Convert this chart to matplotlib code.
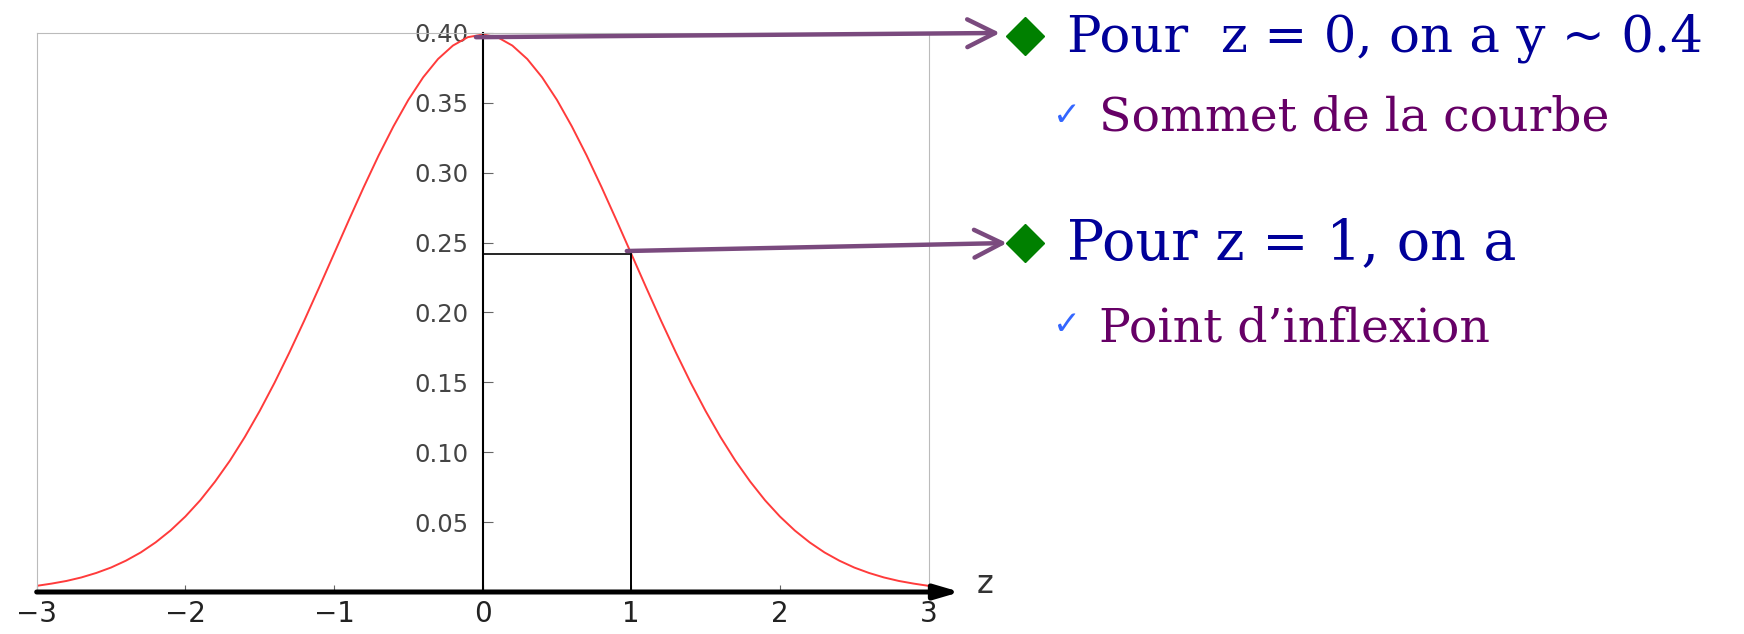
import matplotlib.pyplot as plt
from matplotlib.lines import Line2D

# courbe de la loi normale centrée réduite
z = [-3.0, -2.9, -2.8, -2.7, -2.6, -2.5, -2.4, -2.3, -2.2, -2.1,
     -2.0, -1.9, -1.8, -1.7, -1.6, -1.5, -1.4, -1.3, -1.2, -1.1,
     -1.0, -0.9, -0.8, -0.7, -0.6, -0.5, -0.4, -0.3, -0.2, -0.1,
     0.0, 0.1, 0.2, 0.3, 0.4, 0.5, 0.6, 0.7, 0.8, 0.9,
     1.0, 1.1, 1.2, 1.3, 1.4, 1.5, 1.6, 1.7, 1.8, 1.9,
     2.0, 2.1, 2.2, 2.3, 2.4, 2.5, 2.6, 2.7, 2.8, 2.9, 3.0]
y = [0.0044, 0.0060, 0.0079, 0.0104, 0.0136, 0.0175, 0.0224, 0.0283, 0.0355, 0.0440,
     0.0540, 0.0656, 0.0790, 0.0940, 0.1109, 0.1295, 0.1497, 0.1714, 0.1942, 0.2179,
     0.2420, 0.2661, 0.2897, 0.3123, 0.3332, 0.3521, 0.3683, 0.3814, 0.3910, 0.3970,
     0.3989, 0.3970, 0.3910, 0.3814, 0.3683, 0.3521, 0.3332, 0.3123, 0.2897, 0.2661,
     0.2420, 0.2179, 0.1942, 0.1714, 0.1497, 0.1295, 0.1109, 0.0940, 0.0790, 0.0656,
     0.0540, 0.0440, 0.0355, 0.0283, 0.0224, 0.0175, 0.0136, 0.0104, 0.0079, 0.0060, 0.0044]

xticks = [-3, -2, -1, 0, 1, 2, 3]
yticks = [0.05, 0.10, 0.15, 0.20, 0.25, 0.30, 0.35, 0.40]

sommet = (0.0, 0.397)
inflexion = (1.0, 0.242)

fig = plt.figure(figsize=(17.44, 6.34), dpi=100)
ax = fig.add_axes([0.02104, 0.06625, 0.5114, 0.8817])

ax.plot(z, y, color='#ff3b3b', lw=1.4)

# traits noirs vers le point d'inflexion
ax.plot([inflexion[0], inflexion[0]], [0, inflexion[1]], color='black', lw=1.4)
ax.plot([0, inflexion[0]], [inflexion[1], inflexion[1]], color='black', lw=1.2)

ax.set_xlim(-3, 3)
ax.set_ylim(0, 0.4)

# cadre gris + axe des y au centre
ax.spines['left'].set_position(('data', 0))
ax.spines['left'].set_color('black')
ax.spines['left'].set_linewidth(1.5)
for s in ['top', 'right']:
    ax.spines[s].set_color('#bbbbbb')
    ax.spines[s].set_linewidth(0.8)
ax.spines['bottom'].set_visible(False)
ax.axvline(-3, color='#bbbbbb', lw=0.8, clip_on=False)

ax.set_xticks(xticks)
ax.set_xticklabels(['\u2212%d' % abs(t) if t < 0 else str(t) for t in xticks])
ax.set_yticks(yticks)
ax.set_yticklabels(['%.2f' % t for t in yticks])
ax.tick_params(axis='x', direction='in', length=5, width=0.8, color='#666666',
               pad=6, labelsize=20, labelcolor='#222222')
ax.tick_params(axis='y', direction='in', length=7, width=0.8, color='#666666',
               pad=10, labelsize=17.5, labelcolor='#444444')

# axe des z avec flèche
ax.annotate('', xy=(1.0353, 0), xycoords=('axes fraction', 'data'),
            xytext=(-3, 0), textcoords='data', annotation_clip=False,
            arrowprops=dict(arrowstyle='-|>,head_length=0.75,head_width=0.22',
                            lw=3.6, color='black', mutation_scale=20,
                            shrinkA=0, shrinkB=0))
fig.text(0.5648, 0.0773, 'z', fontsize=23, color='#333333', ha='center', va='center')

# flèches violettes vers le texte
violet = '#7a4a7e'
ax.annotate('', xy=(0.5734, 0.948), xycoords='figure fraction',
            xytext=(-0.045, sommet[1]), textcoords='data', annotation_clip=False,
            arrowprops=dict(arrowstyle='->,head_length=1.0,head_width=0.5',
                            lw=3.2, color=violet, mutation_scale=20,
                            shrinkA=0, shrinkB=0, capstyle='round'))
ax.annotate('', xy=(0.5774, 0.6167), xycoords='figure fraction',
            xytext=(0.97, 0.244), textcoords='data', annotation_clip=False,
            arrowprops=dict(arrowstyle='->,head_length=1.0,head_width=0.5',
                            lw=3.2, color=violet, mutation_scale=20,
                            shrinkA=0, shrinkB=0, capstyle='round'))

# puces et texte
bleu = '#000099'
pourpre = '#660066'
for yy in [0.9432, 0.6167]:
    fig.add_artist(Line2D([0.5877], [yy], marker='D', markersize=19, color='#008000',
                          transform=fig.transFigure))

fig.text(0.6118, 0.918, 'Pour  z = 0, on a y ~ 0.4', fontsize=37, family='DejaVu Serif',
         color=bleu, va='baseline', ha='left')
fig.text(0.6118, 0.5915, 'Pour z = 1, on a', fontsize=40, family='DejaVu Serif',
         color=bleu, va='baseline', ha='left')

fig.text(0.6118, 0.8186, '\u2713', fontsize=24, color='#3366ff', ha='center', va='center')
fig.text(0.6302, 0.7934, 'Sommet de la courbe', fontsize=34, family='DejaVu Serif',
         color=pourpre, va='baseline', ha='left')
fig.text(0.6118, 0.4874, '\u2713', fontsize=24, color='#3366ff', ha='center', va='center')
fig.text(0.6302, 0.4606, 'Point d\u2019inflexion', fontsize=34, family='DejaVu Serif',
         color=pourpre, va='baseline', ha='left')

fig.savefig('out.png', dpi=100)
